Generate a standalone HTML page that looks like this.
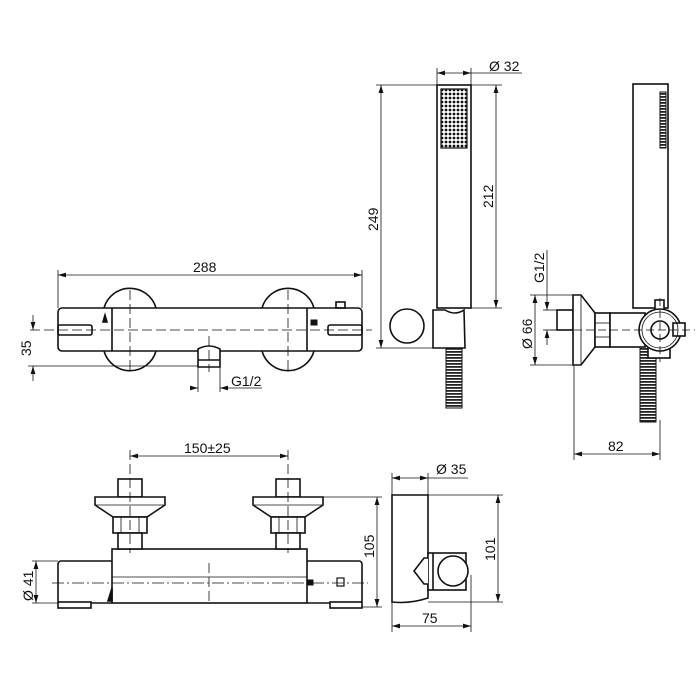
<!DOCTYPE html>
<html><head><meta charset="utf-8"><style>
html,body{margin:0;padding:0;background:#fff;}
svg{display:block}
text{font-family:"Liberation Sans",sans-serif;font-size:14px;fill:#111}
</style></head><body>
<svg width="700" height="700" viewBox="0 0 700 700" xmlns="http://www.w3.org/2000/svg">
<defs>
<marker id="a" viewBox="0 0 10 6" refX="10" refY="3" markerWidth="8" markerHeight="5" orient="auto-start-reverse" markerUnits="userSpaceOnUse"><path d="M0,0 L10,3 L0,6 z" fill="#111"/></marker>
<pattern id="g" width="4" height="4" patternUnits="userSpaceOnUse"><rect width="4" height="4" fill="#fff"/><circle cx="2" cy="2" r="1.4" fill="#111"/></pattern>
<pattern id="h" width="16" height="3" patternUnits="userSpaceOnUse"><rect width="16" height="3" fill="#fff"/><rect y="0" width="16" height="1.8" fill="#222"/></pattern>
</defs>
<g fill="none" stroke="#111" stroke-width="1.6">
<path d="M104,308 A27,27 0 0 1 156,308" />
<path d="M104,351 A27,27 0 0 0 156,351" />
<path d="M262,308 A27,27 0 0 1 314,308" />
<path d="M262,351 A27,27 0 0 0 314,351" />
<rect x="58" y="308" width="304" height="43" rx="4" fill="#fff"/>
<line x1="112" y1="308" x2="112" y2="351"/>
<line x1="307" y1="308" x2="307" y2="351"/>
<rect x="58" y="325" width="34" height="10" rx="2"/>
<rect x="328" y="325" width="34" height="10" rx="2"/>
<rect x="336" y="302" width="9" height="6"/>
<path d="M105,315 L103,322 L107,322 Z" fill="#111"/>
<rect x="311" y="320" width="6" height="5" fill="#111" stroke-width="1"/>
<path d="M198,349 Q209,343 220,349 L220,367 L198,367 Z" fill="#fff"/>
<line x1="198" y1="360" x2="220" y2="360"/>
</g>
<g stroke="#111" stroke-width="0.8" fill="none">
<line x1="30" y1="330" x2="372" y2="330" stroke-dasharray="10,4"/>
<line x1="130" y1="290" x2="130" y2="372" stroke-dasharray="10,4"/>
<line x1="288" y1="290" x2="288" y2="372" stroke-dasharray="10,4"/>
<line x1="209" y1="336" x2="209" y2="372" stroke-dasharray="10,4"/>
<line x1="58" y1="270" x2="58" y2="308"/><line x1="362" y1="270" x2="362" y2="308"/>
<line x1="58" y1="275" x2="362" y2="275" marker-start="url(#a)" marker-end="url(#a)"/>
<line x1="28" y1="366" x2="198" y2="366"/>
<line x1="33" y1="315" x2="33" y2="330" marker-end="url(#a)"/>
<line x1="33" y1="381" x2="33" y2="366" marker-end="url(#a)"/>
<line x1="198" y1="367" x2="198" y2="392"/><line x1="220" y1="367" x2="220" y2="392"/>
<line x1="190" y1="388" x2="198" y2="388" marker-end="url(#a)"/>
<line x1="262" y1="388" x2="220" y2="388" marker-end="url(#a)"/>
</g>
<text x="193" y="272">288</text>
<text transform="translate(31,356) rotate(-90)">35</text>
<text x="231" y="386">G1/2</text>

<g fill="#fff" stroke="#111" stroke-width="1.6">
<rect x="58" y="561" width="56" height="42" rx="3"/>
<rect x="305" y="561" width="57" height="42" rx="3"/>
<rect x="58" y="602" width="33" height="6"/>
<rect x="330" y="602" width="32" height="6"/>
<rect x="112" y="549" width="195" height="54"/>
<rect x="118" y="479" width="24" height="18"/>
<path d="M95,497 L165,497 L165,505 L147,517 L113,517 L95,505 Z"/>
<rect x="113" y="517" width="34" height="16"/>
<rect x="118" y="533" width="24" height="16"/>
<rect x="276" y="479" width="24" height="18"/>
<path d="M253,497 L323,497 L323,505 L305,517 L271,517 L253,505 Z"/>
<rect x="271" y="517" width="34" height="16"/>
<rect x="276" y="533" width="24" height="16"/>
<rect x="337" y="578" width="7" height="8" stroke-width="1.2"/>
<path d="M112,588 L108,601 L112,601 Z" fill="#111"/>
<rect x="307" y="580" width="6" height="5" fill="#111" stroke-width="1"/>
</g>
<g stroke="#111" stroke-width="0.8" fill="none">
<line x1="96" y1="505" x2="164" y2="505"/><line x1="254" y1="505" x2="322" y2="505"/>
<line x1="121" y1="517" x2="121" y2="533"/><line x1="139" y1="517" x2="139" y2="533"/>
<line x1="279" y1="517" x2="279" y2="533"/><line x1="297" y1="517" x2="297" y2="533"/>
<line x1="112" y1="577" x2="307" y2="577"/>
<line x1="52" y1="583" x2="368" y2="583" stroke-dasharray="12,3,2,3"/>
<line x1="130" y1="450" x2="130" y2="553" stroke-dasharray="10,4"/>
<line x1="288" y1="450" x2="288" y2="553" stroke-dasharray="10,4"/>
<line x1="209" y1="563" x2="209" y2="603" stroke-dasharray="10,4"/>
<line x1="130" y1="456" x2="288" y2="456" marker-start="url(#a)" marker-end="url(#a)"/>
<line x1="323" y1="497" x2="382" y2="497"/><line x1="362" y1="607" x2="382" y2="607"/>
<line x1="377" y1="497" x2="377" y2="607" marker-start="url(#a)" marker-end="url(#a)"/>
<line x1="32" y1="561" x2="58" y2="561"/><line x1="32" y1="603" x2="58" y2="603"/>
<line x1="36" y1="561" x2="36" y2="603" marker-start="url(#a)" marker-end="url(#a)"/>
</g>
<text x="184" y="453">150±25</text>
<text transform="translate(374,558) rotate(-90)">105</text>
<text transform="translate(33,601) rotate(-90)">Ø 41</text>

<g fill="#fff" stroke="#111" stroke-width="1.6">
<rect x="437" y="85" width="34" height="223"/>
<rect x="441" y="89" width="26" height="59" fill="url(#g)" stroke-width="1.2"/>
<rect x="446" y="348" width="16" height="60" fill="url(#h)" stroke-width="1"/>
<path d="M433,310 L445,310 Q455,316 464,310 L465,348 L433,348 Z"/>
<circle cx="407" cy="326" r="17"/>
</g>
<g stroke="#111" stroke-width="0.8" fill="none">
<line x1="437" y1="68" x2="437" y2="85"/><line x1="471" y1="68" x2="471" y2="85"/>
<line x1="437" y1="73" x2="471" y2="73" marker-start="url(#a)" marker-end="url(#a)"/>
<line x1="471" y1="73" x2="522" y2="73"/>
<line x1="376" y1="85" x2="437" y2="85"/><line x1="376" y1="348" x2="433" y2="348"/>
<line x1="381" y1="85" x2="381" y2="348" marker-start="url(#a)" marker-end="url(#a)"/>
<line x1="471" y1="85" x2="502" y2="85"/><line x1="471" y1="308" x2="502" y2="308"/>
<line x1="496" y1="85" x2="496" y2="308" marker-start="url(#a)" marker-end="url(#a)"/>
</g>
<text x="489" y="71">Ø 32</text>
<text transform="translate(378,231) rotate(-90)">249</text>
<text transform="translate(493,208) rotate(-90)">212</text>

<g fill="#fff" stroke="#111" stroke-width="1.6">
<rect x="633" y="84" width="35" height="224"/>
<rect x="660" y="92" width="6" height="56" fill="url(#h)" stroke-width="1"/>
<rect x="640" y="345" width="16" height="77" fill="url(#h)" stroke-width="1"/>
<rect x="557" y="310" width="16" height="20"/>
<path d="M573,295 L581,295 L595,313 L595,347 L581,365 L573,365 Z"/>
<rect x="595" y="313" width="15" height="34"/>
<rect x="610" y="313" width="35" height="34"/>
<rect x="655" y="300" width="9" height="10"/>
<rect x="648" y="346" width="22" height="12"/>
<circle cx="660" cy="330" r="21"/>
<circle cx="660" cy="330" r="9"/>
<rect x="673" y="323" width="12" height="13"/>
</g>
<g stroke="#111" stroke-width="0.8" fill="none">
<line x1="581" y1="296" x2="581" y2="364"/>
<circle cx="660" cy="330" r="18"/>
<line x1="595" y1="323" x2="610" y2="323"/><line x1="595" y1="337" x2="610" y2="337"/>
<line x1="550" y1="330" x2="695" y2="330" stroke-dasharray="8,4"/>
<line x1="660" y1="298" x2="660" y2="362" stroke-dasharray="8,4"/>
<line x1="530" y1="295" x2="573" y2="295"/><line x1="530" y1="365" x2="573" y2="365"/>
<line x1="535" y1="295" x2="535" y2="365" marker-start="url(#a)" marker-end="url(#a)"/>
<line x1="543" y1="310" x2="557" y2="310"/><line x1="543" y1="330" x2="557" y2="330"/>
<line x1="547" y1="250" x2="547" y2="310" marker-end="url(#a)"/>
<line x1="547" y1="345" x2="547" y2="330" marker-end="url(#a)"/>
<line x1="574" y1="365" x2="574" y2="460"/><line x1="660" y1="420" x2="660" y2="460"/>
<line x1="574" y1="454" x2="660" y2="454" marker-start="url(#a)" marker-end="url(#a)"/>
</g>
<text transform="translate(544,283) rotate(-90)">G1/2</text>
<text transform="translate(532,349) rotate(-90)">Ø 66</text>
<text x="608" y="451">82</text>

<g fill="#fff" stroke="#111" stroke-width="1.6">
<path d="M392,495 L428,495 L428,598 Q410,604 392,602 Z"/>
<rect x="428" y="553" width="38" height="37"/>
<path d="M428,558 L424,558 L414,571 L424,584 L428,584"/>
<line x1="433" y1="553" x2="433" y2="590"/>
<circle cx="453" cy="571" r="15"/>
</g>
<g stroke="#111" stroke-width="0.8" fill="none">
<line x1="392" y1="473" x2="392" y2="495"/><line x1="428" y1="473" x2="428" y2="495"/>
<line x1="392" y1="478" x2="428" y2="478" marker-start="url(#a)" marker-end="url(#a)"/>
<line x1="428" y1="478" x2="468" y2="478"/>
<line x1="428" y1="495" x2="503" y2="495"/><line x1="428" y1="602" x2="503" y2="602"/>
<line x1="498" y1="495" x2="498" y2="602" marker-start="url(#a)" marker-end="url(#a)"/>
<line x1="392" y1="602" x2="392" y2="632"/><line x1="471" y1="575" x2="471" y2="632"/>
<line x1="392" y1="626" x2="471" y2="626" marker-start="url(#a)" marker-end="url(#a)"/>
</g>
<text x="436" y="474">Ø 35</text>
<text transform="translate(495,561) rotate(-90)">101</text>
<text x="422" y="623">75</text>
</svg>
</body></html>
